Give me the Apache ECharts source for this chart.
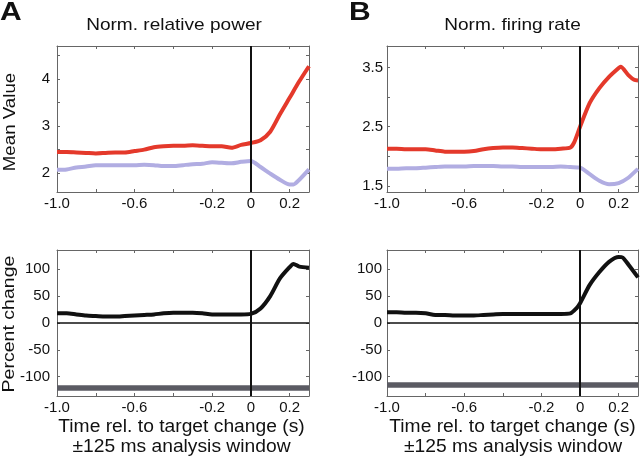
<!DOCTYPE html>
<html>
<head>
<meta charset="utf-8">
<script src="https://cdn.jsdelivr.net/npm/echarts@6/dist/echarts.min.js"></script>
<style>html,body{margin:0;padding:0;background:#fff;}#c{width:640px;height:463px;}</style>
</head>
<body>
<div id="c"></div>
<script>
// ---- Data ----
const timeStd = [-1.0,-0.95,-0.9,-0.85,-0.8,-0.75,-0.7,-0.65,-0.6,-0.55,-0.5,-0.45,-0.4,-0.35,-0.3,-0.25,-0.2,-0.15,-0.1,-0.05,0,0.05,0.1,0.15,0.2,0.25,0.3];

const powerRed = [2.45,2.45,2.44,2.43,2.42,2.43,2.44,2.44,2.47,2.50,2.55,2.57,2.58,2.58,2.59,2.58,2.57,2.57,2.54,2.60,2.64,2.70,2.88,3.25,3.60,3.95,4.27];
const timePowerLav = [-1.0,-0.95,-0.9,-0.85,-0.8,-0.75,-0.7,-0.65,-0.6,-0.55,-0.5,-0.45,-0.4,-0.35,-0.3,-0.25,-0.2,-0.15,-0.1,-0.05,0,0.05,0.1,0.15,0.2,0.22,0.25,0.3];
const powerLav = [2.07,2.08,2.12,2.14,2.17,2.17,2.17,2.17,2.17,2.18,2.17,2.15,2.15,2.17,2.19,2.20,2.23,2.22,2.21,2.24,2.26,2.13,1.99,1.86,1.76,1.76,1.86,2.08];

const timeRateRed = [-1.0,-0.95,-0.9,-0.85,-0.8,-0.75,-0.7,-0.65,-0.6,-0.55,-0.5,-0.45,-0.4,-0.35,-0.3,-0.25,-0.2,-0.15,-0.1,-0.05,-0.03,0,0.05,0.1,0.15,0.2,0.21,0.25,0.28,0.3];
const rateRed = [2.13,2.13,2.12,2.12,2.12,2.10,2.08,2.08,2.08,2.09,2.12,2.14,2.15,2.15,2.14,2.13,2.12,2.12,2.13,2.15,2.24,2.50,2.90,3.15,3.34,3.49,3.51,3.37,3.29,3.28];
const rateLav = [1.79,1.79,1.80,1.80,1.81,1.82,1.83,1.83,1.83,1.84,1.84,1.84,1.83,1.83,1.82,1.82,1.82,1.82,1.83,1.82,1.81,1.70,1.59,1.53,1.55,1.64,1.79];

const timePowerPct = [-1.0,-0.95,-0.9,-0.85,-0.8,-0.75,-0.7,-0.65,-0.6,-0.55,-0.5,-0.45,-0.4,-0.35,-0.3,-0.25,-0.2,-0.15,-0.1,-0.05,0,0.05,0.1,0.15,0.2,0.22,0.25,0.3];
const powerPct = [18,18,16,14,13,12,12,13,14,15,16,18,19,19,19,18,16,16,16,16,17,27,50,83,104,110,105,103];
const timeRatePct = [-1.0,-0.95,-0.9,-0.85,-0.8,-0.75,-0.7,-0.65,-0.6,-0.55,-0.5,-0.45,-0.4,-0.35,-0.3,-0.25,-0.2,-0.15,-0.1,-0.05,-0.02,0,0.05,0.1,0.15,0.2,0.22,0.25,0.3];
const ratePct = [20,20,19,19,18,15,15,14,14,14,15,16,17,17,17,17,17,17,17,18,27,37,71,95,114,123,122,109,85];

const sigBarPower = -121;
const sigBarRate = -115;

const xTickVals = [-1.0,-0.8,-0.6,-0.4,-0.2,0,0.2];
const xLabelVals = [-1.0,-0.6,-0.2,0,0.2];
const xLabelText = ['-1.0','-0.6','-0.2','0','0.2'];
const yPowerTicks = [2,2.5,3,3.5,4,4.5];
const yPowerLabels = [2,3,4];
const yRateTicks = [1.5,2,2.5,3,3.5];
const yRateLabels = [1.5,2.5,3.5];
const yRateLabelText = ['1.5','2.5','3.5'];
const yPctTicks = [-100,-50,0,50,100];

const titles = ['Norm. relative power','Norm. firing rate'];
const panelLetters = ['A','B'];
const yNames = ['Mean Value','Percent change'];
const xName1 = 'Time rel. to target change (s)';
const xName2 = '±125 ms analysis window';

// ---- Layout / style ----
const FONT = "'Liberation Sans', Arial, Helvetica, sans-serif";
const RED = '#e4392b', LAV = '#b1ade2', BLK = '#111111', BAR = '#5b5b63', FRAME = '#666666';
const zip = (t, v) => t.map((x, i) => [x, v[i]]);

const grids = [
  {left: 57, top: 46, width: 252, height: 146},
  {left: 387, top: 46, width: 251, height: 146},
  {left: 57, top: 250, width: 252, height: 146},
  {left: 387, top: 250, width: 251, height: 146}
];
const yRanges = [[1.6, 4.7], [1.4, 3.86], [-136, 136], [-136, 136]];
const yTicks = [yPowerTicks, yRateTicks, yPctTicks, yPctTicks];
const yLabs = [yPowerLabels, yRateLabels, yPctTicks, yPctTicks];
const yMargins = [7, 4, 7, 5];
const TICKFS = 15;

const xAxes = [], yAxes = [];
grids.forEach((g, i) => {
  const common = {type: 'value', gridIndex: i, min: -1.0, max: 0.3,
    axisLine: {show: true, onZero: false, lineStyle: {color: FRAME, width: 1}},
    splitLine: {show: false}};
  xAxes.push(Object.assign({}, common, {position: 'bottom',
    axisTick: {show: true, inside: true, length: 3, customValues: xTickVals, lineStyle: {color: FRAME}},
    axisLabel: {show: true, customValues: xLabelVals, margin: 4, color: BLK, fontSize: TICKFS, fontFamily: FONT,
      formatter: v => { const k = xLabelVals.findIndex(a => Math.abs(a - v) < 1e-6); return k >= 0 ? xLabelText[k] : ''; }}}));
  xAxes.push(Object.assign({}, common, {position: 'top',
    axisTick: {show: true, inside: true, length: 3, customValues: xTickVals, lineStyle: {color: FRAME}},
    axisLabel: {show: false}}));
  const yc = {type: 'value', gridIndex: i, min: yRanges[i][0], max: yRanges[i][1],
    axisLine: {show: true, onZero: false, lineStyle: {color: FRAME, width: 1}},
    splitLine: {show: false}};
  yAxes.push(Object.assign({}, yc, {position: 'left',
    axisTick: {show: true, inside: true, length: 3, customValues: yTicks[i], lineStyle: {color: FRAME}},
    axisLabel: {show: true, customValues: yLabs[i], margin: yMargins[i], color: BLK, fontSize: TICKFS, fontFamily: FONT,
      formatter: v => { if (i === 1) { const k = yRateLabels.findIndex(a => Math.abs(a - v) < 1e-6); return k >= 0 ? yRateLabelText[k] : ''; } return String(Math.round(v)); }}}));
  yAxes.push(Object.assign({}, yc, {position: 'right',
    axisTick: {show: true, inside: true, length: 3, customValues: yTicks[i], lineStyle: {color: FRAME}},
    axisLabel: {show: false}}));
});

function lineSeries(idx, data, color, z) {
  return {type: 'line', xAxisIndex: idx * 2, yAxisIndex: idx * 2, data: data, showSymbol: false, symbol: 'none',
    smooth: 0.25, lineStyle: {color: color, width: 4}, z: z, silent: true, animation: false};
}
function markSeries(idx, lines, z) {
  return {type: 'line', xAxisIndex: idx * 2, yAxisIndex: idx * 2, data: [], z: z, silent: true, animation: false,
    markLine: {symbol: ['none', 'none'], silent: true, animation: false, label: {show: false},
      data: lines}};
}

const series = [
  markSeries(2, [{yAxis: sigBarPower, lineStyle: {color: BAR, width: 5.5, type: 'solid'}}], 1),
  markSeries(3, [{yAxis: sigBarRate, lineStyle: {color: BAR, width: 5.5, type: 'solid'}}], 1),
  markSeries(2, [{yAxis: 0, lineStyle: {color: BLK, width: 1.5, type: 'solid'}}], 2),
  markSeries(3, [{yAxis: 0, lineStyle: {color: BLK, width: 1.5, type: 'solid'}}], 2),
  lineSeries(0, zip(timeStd, powerRed), RED, 3),
  lineSeries(0, zip(timePowerLav, powerLav), LAV, 3),
  lineSeries(1, zip(timeRateRed, rateRed), RED, 3),
  lineSeries(1, zip(timeStd, rateLav), LAV, 3),
  lineSeries(2, zip(timePowerPct, powerPct), BLK, 3),
  lineSeries(3, zip(timeRatePct, ratePct), BLK, 3)
];
[0, 1, 2, 3].forEach(i => series.push(markSeries(i, [{xAxis: 0, lineStyle: {color: BLK, width: 2, type: 'solid'}}], 5)));

function txt(text, x, y, size, o) {
  o = o || {};
  const el = {type: 'text', x: x, y: y, silent: true, scaleX: o.sx || 1,
    style: {text: text, font: (o.bold ? 'bold ' : '') + size + 'px ' + FONT, fill: BLK,
      align: o.align || 'center', textAlign: o.align || 'center',
      verticalAlign: 'middle', textVerticalAlign: 'middle'}};
  if (o.rotation !== undefined) el.rotation = o.rotation;
  return el;
}

const graphics = [
  txt(panelLetters[0], 0, 13.5, 25, {bold: true, align: 'left', sx: 1.2}),
  txt(panelLetters[1], 349, 13.5, 25, {bold: true, align: 'left', sx: 1.2}),
  txt(titles[0], 174, 25.7, 17, {sx: 1.12}),
  txt(titles[1], 512.5, 25.7, 17, {sx: 1.12}),
  txt(yNames[0], 10.5, 122, 17, {rotation: Math.PI / 2, sx: 1.1}),
  txt(yNames[1], 9.5, 324, 17, {rotation: Math.PI / 2, sx: 1.15}),
  txt(xName1, 181.5, 427.2, 17.5, {sx: 1.1}),
  txt(xName2, 181.5, 447.4, 17.5, {sx: 1.1}),
  txt(xName1, 512.5, 427.2, 17.5, {sx: 1.1}),
  txt(xName2, 513, 447.4, 17.5, {sx: 1.1})
];

const chart = echarts.init(document.getElementById('c'), null, {renderer: 'canvas'});
chart.setOption({
  animation: false,
  backgroundColor: '#ffffff',
  grid: grids,
  xAxis: xAxes,
  yAxis: yAxes,
  series: series,
  graphic: graphics
});
</script>
</body>
</html>
